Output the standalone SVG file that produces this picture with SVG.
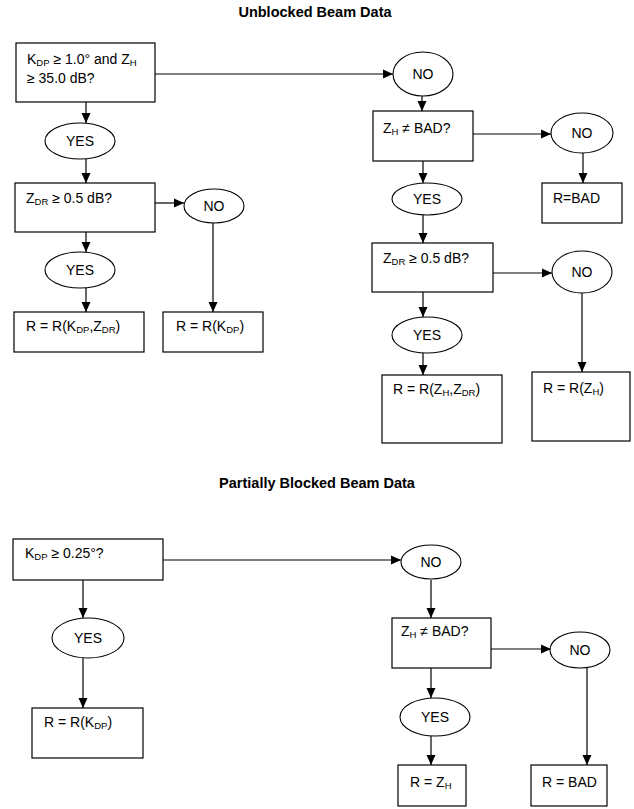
<svg xmlns="http://www.w3.org/2000/svg" width="634" height="809" viewBox="0 0 634 809">
<style>
  .bg { fill: #ffffff; }
  .box { fill: #ffffff; stroke: #000000; stroke-width: 1.2; }
  .oval { fill: #ffffff; stroke: #000000; stroke-width: 1.1; }
  .t { font-family: "Liberation Sans", Arial, sans-serif; font-size: 14px; fill: #000000; }
  .c { text-anchor: middle; }
  .title { font-family: "Liberation Sans", Arial, sans-serif; font-size: 14.5px; font-weight: bold; fill: #000000; text-anchor: middle; }
  .s { font-size: 9.5px; }
  .conn line { stroke: #000000; stroke-width: 1.2; fill: none; }
  .conn line.a { marker-end: url(#ah); }
</style>
<defs>
  <marker id="ah" markerUnits="userSpaceOnUse" markerWidth="10" markerHeight="10" refX="10" refY="5" orient="auto">
    <path d="M0,0.5 L10,5 L0,9.5 z" fill="#000000"/>
  </marker>
</defs>
<rect class="bg" x="0" y="0" width="634" height="809"/>

<text class="title" x="315" y="17">Unblocked Beam Data</text>
<text class="title" x="317" y="488">Partially Blocked Beam Data</text>

<g id="connectors" class="conn">
  <line class="a" x1="155" y1="74" x2="393" y2="74"/>
  <line class="a" x1="86" y1="102" x2="86" y2="123"/>
  <line class="a" x1="86" y1="159" x2="86" y2="183"/>
  <line class="a" x1="155" y1="203" x2="184" y2="203"/>
  <line class="a" x1="213" y1="223" x2="213" y2="312"/>
  <line class="a" x1="86" y1="232" x2="86" y2="252"/>
  <line class="a" x1="86" y1="288" x2="86" y2="312"/>
  <line class="a" x1="422" y1="96" x2="422" y2="111"/>
  <line class="a" x1="473" y1="134" x2="551" y2="134"/>
  <line class="a" x1="583" y1="153" x2="583" y2="183"/>
  <line class="a" x1="423" y1="161" x2="423" y2="183"/>
  <line class="a" x1="423" y1="215" x2="423" y2="243"/>
  <line class="a" x1="493" y1="273" x2="552" y2="273"/>
  <line class="a" x1="582" y1="293" x2="582" y2="372"/>
  <line class="a" x1="423" y1="292" x2="423" y2="317"/>
  <line class="a" x1="423" y1="353" x2="423" y2="375"/>
  <line class="a" x1="163" y1="560" x2="401" y2="560"/>
  <line class="a" x1="83" y1="580" x2="83" y2="618"/>
  <line class="a" x1="83" y1="658" x2="83" y2="708"/>
  <line class="a" x1="431" y1="580" x2="431" y2="618"/>
  <line class="a" x1="491" y1="649" x2="551" y2="649"/>
  <line class="a" x1="587" y1="667" x2="587" y2="765"/>
  <line class="a" x1="431" y1="668" x2="431" y2="698"/>
  <line class="a" x1="431" y1="736" x2="431" y2="765"/>
</g>

<g id="q1">
  <rect class="box" x="16" y="43" width="139" height="59"/>
  <text class="t" x="27" y="64">K<tspan class="s" dy="1.5">DP</tspan><tspan dy="-1.5"> ≥ 1.0° and Z</tspan><tspan class="s" dy="1.5">H</tspan></text>
  <text class="t" x="27" y="83">≥ 35.0 dB?</text>
</g>
<g id="no1">
  <ellipse class="oval" cx="423" cy="74" rx="30" ry="22"/>
  <text class="t c" x="423" y="79">NO</text>
</g>
<g id="yes1">
  <ellipse class="oval" cx="80" cy="141" rx="35" ry="18"/>
  <text class="t c" x="80" y="146">YES</text>
</g>
<g id="q2">
  <rect class="box" x="15" y="183" width="140" height="49"/>
  <text class="t" x="26" y="203">Z<tspan class="s" dy="1.5">DR</tspan><tspan dy="-1.5"> ≥ 0.5 dB?</tspan></text>
</g>
<g id="no2">
  <ellipse class="oval" cx="214" cy="206" rx="30" ry="17"/>
  <text class="t c" x="214" y="211">NO</text>
</g>
<g id="yes2">
  <ellipse class="oval" cx="80" cy="270" rx="35" ry="18"/>
  <text class="t c" x="80" y="275">YES</text>
</g>
<g id="r1">
  <rect class="box" x="14" y="312" width="130" height="40"/>
  <text class="t" x="26" y="331">R = R(K<tspan class="s" dy="1.5">DP</tspan><tspan dy="-1.5">,Z</tspan><tspan class="s" dy="1.5">DR</tspan><tspan dy="-1.5">)</tspan></text>
</g>
<g id="r2">
  <rect class="box" x="163" y="312" width="100" height="40"/>
  <text class="t" x="176" y="331">R = R(K<tspan class="s" dy="1.5">DP</tspan><tspan dy="-1.5">)</tspan></text>
</g>
<g id="q3">
  <rect class="box" x="373" y="111" width="100" height="50"/>
  <text class="t" x="383" y="133">Z<tspan class="s" dy="1.5">H</tspan><tspan dy="-1.5"> ≠ BAD?</tspan></text>
</g>
<g id="no3">
  <ellipse class="oval" cx="582" cy="133" rx="31" ry="20"/>
  <text class="t c" x="582" y="138">NO</text>
</g>
<g id="r3">
  <rect class="box" x="542" y="183" width="80" height="40"/>
  <text class="t" x="553" y="203">R=BAD</text>
</g>
<g id="yes3">
  <ellipse class="oval" cx="427" cy="199" rx="35" ry="16"/>
  <text class="t c" x="427" y="204">YES</text>
</g>
<g id="q4">
  <rect class="box" x="372" y="243" width="121" height="49"/>
  <text class="t" x="383" y="263">Z<tspan class="s" dy="1.5">DR</tspan><tspan dy="-1.5"> ≥ 0.5 dB?</tspan></text>
</g>
<g id="no4">
  <ellipse class="oval" cx="582" cy="272" rx="30" ry="21"/>
  <text class="t c" x="582" y="277">NO</text>
</g>
<g id="yes4">
  <ellipse class="oval" cx="427" cy="335" rx="35" ry="18"/>
  <text class="t c" x="427" y="340">YES</text>
</g>
<g id="r4">
  <rect class="box" x="382" y="375" width="120" height="68"/>
  <text class="t" x="393" y="394">R = R(Z<tspan class="s" dy="1.5">H</tspan><tspan dy="-1.5">,Z</tspan><tspan class="s" dy="1.5">DR</tspan><tspan dy="-1.5">)</tspan></text>
</g>
<g id="r5">
  <rect class="box" x="532" y="372" width="98" height="69"/>
  <text class="t" x="543" y="393">R = R(Z<tspan class="s" dy="1.5">H</tspan><tspan dy="-1.5">)</tspan></text>
</g>

<g id="q5">
  <rect class="box" x="13" y="539" width="150" height="41"/>
  <text class="t" x="25" y="558">K<tspan class="s" dy="1.5">DP</tspan><tspan dy="-1.5"> ≥ 0.25°?</tspan></text>
</g>
<g id="no5">
  <ellipse class="oval" cx="431" cy="562" rx="30" ry="17"/>
  <text class="t c" x="431" y="567">NO</text>
</g>
<g id="yes5">
  <ellipse class="oval" cx="88" cy="638" rx="36" ry="20"/>
  <text class="t c" x="88" y="643">YES</text>
</g>
<g id="r6">
  <rect class="box" x="32" y="708" width="111" height="50"/>
  <text class="t" x="44" y="727">R = R(K<tspan class="s" dy="1.5">DP</tspan><tspan dy="-1.5">)</tspan></text>
</g>
<g id="q6">
  <rect class="box" x="392" y="618" width="99" height="50"/>
  <text class="t" x="401" y="636">Z<tspan class="s" dy="1.5">H</tspan><tspan dy="-1.5"> ≠ BAD?</tspan></text>
</g>
<g id="no6">
  <ellipse class="oval" cx="580" cy="650" rx="30" ry="18"/>
  <text class="t c" x="580" y="655">NO</text>
</g>
<g id="yes6">
  <ellipse class="oval" cx="435" cy="717" rx="35" ry="19"/>
  <text class="t c" x="435" y="722">YES</text>
</g>
<g id="r7">
  <rect class="box" x="398" y="765" width="68" height="41"/>
  <text class="t" x="410" y="787">R = Z<tspan class="s" dy="1.5">H</tspan></text>
</g>
<g id="r8">
  <rect class="box" x="531" y="765" width="76" height="41"/>
  <text class="t" x="542" y="787">R = BAD</text>
</g>
</svg>
